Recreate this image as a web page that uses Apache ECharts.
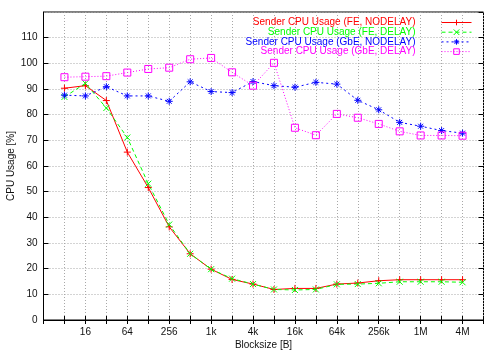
<!DOCTYPE html>
<html><head><meta charset="utf-8">
<script src="https://cdn.jsdelivr.net/npm/echarts@6/dist/echarts.min.js"></script>
<style>html,body{margin:0;padding:0;background:#fff}#c{width:500px;height:350px}</style>
</head><body><div id="c"></div>
<script>
// axis categories (log2 blocksizes, axis spans 4 .. 8M)
const axisCats = ['4','8','16','32','64','128','256','512','1k','2k','4k','8k','16k','32k','64k','128k','256k','512k','1M','2M','4M','8M'];
// measured blocksizes
const blocksizes = ['8','16','32','64','128','256','512','1k','2k','4k','8k','16k','32k','64k','128k','256k','512k','1M','2M','4M'];
const feNodelay  = [90.3, 91.3, 85.5, 65.4, 51.6, 36.3, 25.8, 19.8, 15.8, 14.0, 11.9, 12.3, 12.3, 14.0, 14.4, 15.3, 15.7, 15.7, 15.7, 15.7];
const feDelay    = [86.9, 92.2, 82.6, 71.1, 53.1, 37.2, 25.8, 19.8, 16.1, 14.0, 11.9, 11.7, 11.9, 13.9, 14.0, 14.3, 14.9, 14.9, 14.9, 14.7];
const gbeNodelay = [87.6, 87.3, 90.9, 87.3, 87.3, 85.2, 92.8, 89.0, 88.6, 92.9, 91.3, 90.7, 92.6, 91.9, 85.6, 81.9, 77.0, 75.5, 73.8, 72.8];
const gbeDelay   = [94.6, 94.8, 95.0, 96.4, 97.8, 98.3, 101.6, 102.1, 96.5, 91.3, 100.2, 74.9, 72.0, 80.3, 78.8, 76.4, 73.5, 71.9, 71.9, 71.8];
const seriesNames = ['Sender CPU Usage (FE, NODELAY)','Sender CPU Usage (FE, DELAY)','Sender CPU Usage (GbE, NODELAY)','Sender CPU Usage (GbE, DELAY)'];
const colors = ['#ff0000','#00ff00','#0000ff','#ff00ff'];
const yTicks = [0,10,20,30,40,50,60,70,80,90,100,110];

const FONT = 'Liberation Sans';
const pair = vals => vals.map((v,i)=>[blocksizes[i], v]);
const styles = [
  {symbol:'path://M5,0V10M0,5H10', size:7, dash:'solid'},
  {symbol:'path://M0,0L10,10M10,0L0,10', size:6, dash:[4,3]},
  {symbol:'path://M5,0V10M0,5H10M1.5,1.5L8.5,8.5M8.5,1.5L1.5,8.5', size:7, dash:[2,3]},
  {symbol:'rect', size:7, dash:[1,2]}
];
const allVals = [feNodelay, feDelay, gbeNodelay, gbeDelay];
const series = allVals.map((vals,k)=>({
  name: seriesNames[k], type:'line', data: pair(vals),
  xAxisIndex:0, yAxisIndex:0,
  symbol: styles[k].symbol, symbolSize: styles[k].size, showAllSymbol:true,
  lineStyle:{color:colors[k], width:1, type:styles[k].dash},
  itemStyle:{color:'rgba(0,0,0,0)', borderColor:colors[k], borderWidth:1},
  emphasis:{disabled:true}, animation:false
}));

const chart = echarts.init(document.getElementById('c'), null, {renderer:'canvas'});
const gridLine = {show:true, lineStyle:{color:'#a8a8a8', width:1, type:[1,2]}};
chart.setOption({
  animation:false,
  textStyle:{fontFamily:FONT},
  grid:{left:43.5, right:16.5, top:12, bottom:30, outerBoundsMode:'none', containLabel:false,
        show:true, borderColor:'#000', borderWidth:1, backgroundColor:'transparent'},
  legend:{
    orient:'vertical', right:28, top:17.5, padding:0, itemGap:-0.3, itemWidth:30, itemHeight:7, align:'right',
    textStyle:{fontFamily:FONT, fontSize:10, lineHeight:9, padding:[0,21,0,0]},
    lineStyle:{width:1}, itemStyle:{borderWidth:1},
    data: seriesNames.map((n,k)=>({name:n, textStyle:{color:colors[k]}})),
    selectedMode:false
  },
  xAxis:[{
    type:'category', data:axisCats, boundaryGap:false, position:'bottom',
    name:'Blocksize [B]', nameLocation:'middle', nameGap:20, nameMoveOverlap:false,
    nameTextStyle:{fontFamily:FONT, fontSize:10, color:'#111'},
    axisLine:{show:true, lineStyle:{color:'#000'}},
    axisTick:{show:true, inside:true, length:4, interval:0, lineStyle:{color:'#000'}},
    axisLabel:{interval:(i)=> i>0 && i%2===0 && i<21, fontFamily:FONT, fontSize:10, color:'#111', margin:7},
    splitLine:Object.assign({interval:0}, gridLine)
  },{
    type:'category', data:axisCats, boundaryGap:false, position:'top',
    axisLine:{show:false}, axisLabel:{show:false},
    axisTick:{show:true, inside:true, length:4, interval:0, lineStyle:{color:'#000'}},
    splitLine:{show:false}
  }],
  yAxis:[{
    type:'value', min:0, max:120, interval:10, position:'left',
    name:'CPU Usage [%]', nameLocation:'middle', nameGap:27, nameRotate:90, nameMoveOverlap:false,
    nameTextStyle:{fontFamily:FONT, fontSize:10, color:'#111'},
    axisLine:{show:true, lineStyle:{color:'#000'}},
    axisTick:{show:true, inside:true, length:5, lineStyle:{color:'#000'}},
    axisLabel:{fontFamily:FONT, fontSize:10, color:'#111', margin:6, showMaxLabel:false,
      formatter:(v)=> yTicks.indexOf(v)>=0 ? String(v) : ''},
    splitLine:gridLine
  },{
    type:'value', min:0, max:120, interval:10, position:'right',
    axisLine:{show:false}, axisLabel:{show:false},
    axisTick:{show:true, inside:true, length:5, lineStyle:{color:'#000'}},
    splitLine:{show:false}
  }],
  series: series
});
</script></body></html>
